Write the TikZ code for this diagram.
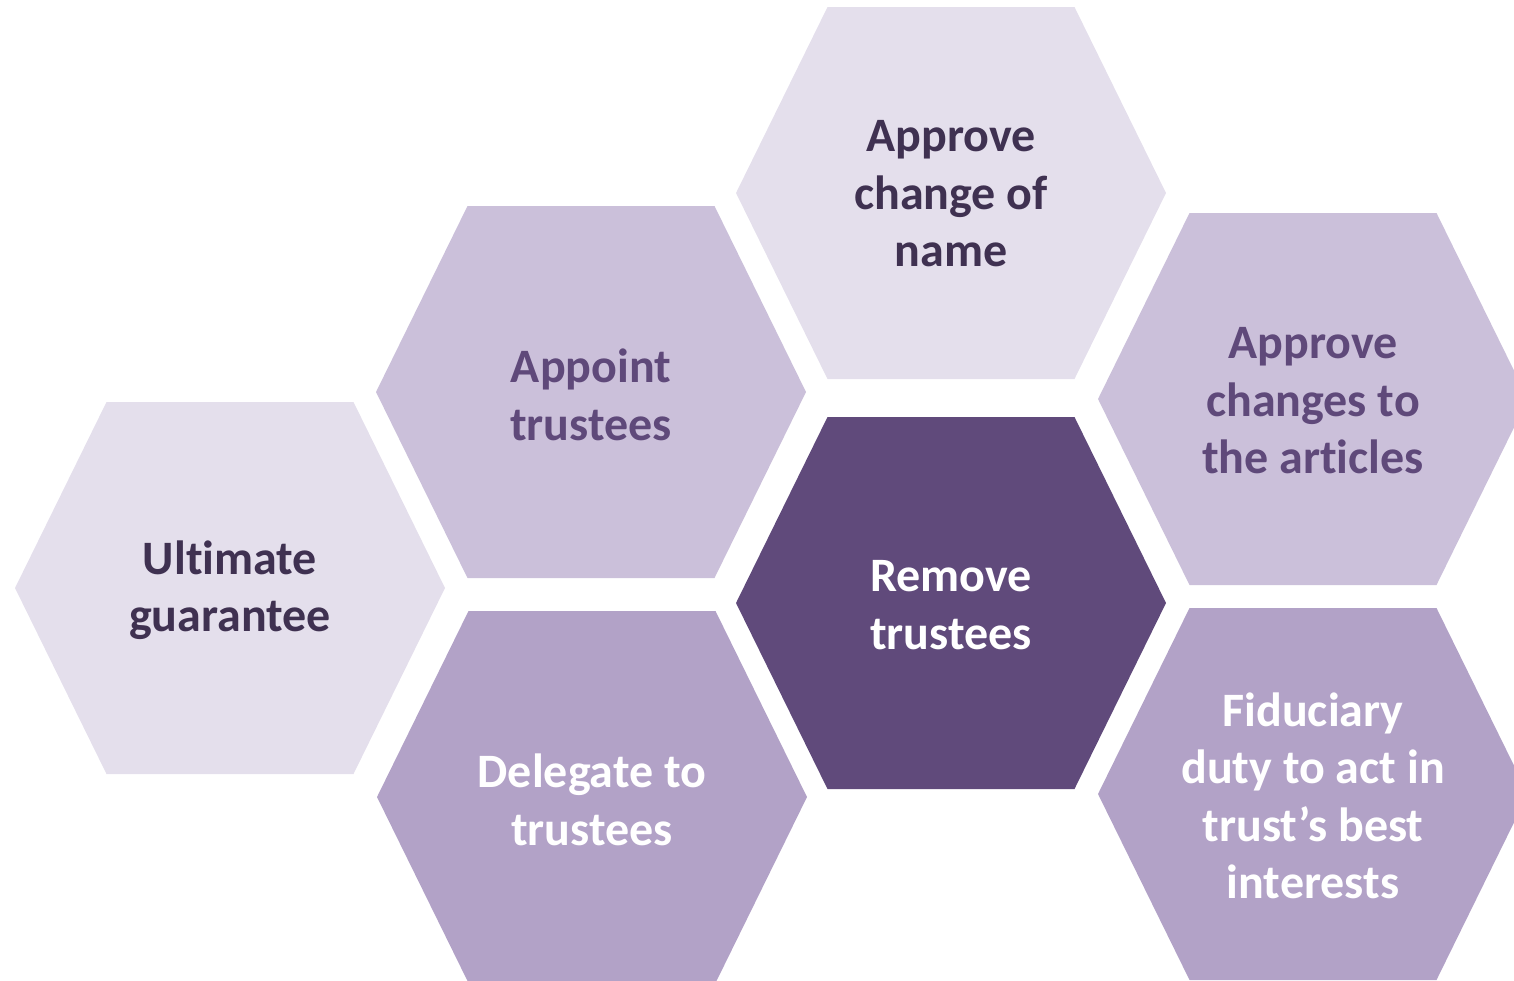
\documentclass[tikz,border=0pt]{standalone}
\usepackage{fontspec}
\setmainfont[Ligatures={NoCommon},RawFeature={-calt;-liga;-clig;-dlig}]{Carlito}
\definecolor{hexlight}{HTML}{E4DFEC}
\definecolor{hexmid}{HTML}{CBC0DA}
\definecolor{hexdeep}{HTML}{B2A2C7}
\definecolor{hexdark}{HTML}{604A7B}
\definecolor{txtdark}{HTML}{3F3151}
\definecolor{txtmid}{HTML}{5F497A}
\tikzset{
  hexlabel/.style={align=center, font=\fontsize{48}{57.5}\selectfont\bfseries, inner sep=0pt},
}
% hexagon: centre, fill colour
\newcommand\hexcell[2]{%
  \fill[#2] ($#1+(-215,0)$) -- ($#1+(-123.5,-186)$) -- ($#1+(123.5,-186)$) -- ($#1+(215,0)$) -- ($#1+(123.5,186)$) -- ($#1+(-123.5,186)$) -- cycle;}
\usetikzlibrary{calc}
\begin{document}
\begin{tikzpicture}[x=1pt,y=-1pt]
\useasboundingbox (0,0) rectangle (1514,980);
\clip (0,0) rectangle (1514,980);
\hexcell{(951,193)}{hexlight}
\hexcell{(591,392)}{hexmid}
\hexcell{(230,588)}{hexlight}
\hexcell{(592,797)}{hexdeep}
\hexcell{(951,603)}{hexdark}
\hexcell{(1313,399)}{hexmid}
\hexcell{(1313,794)}{hexdeep}
\node[hexlabel, text=txtdark] (name) at (951,194) {Approve\\change of\\name};
\node[hexlabel, text=txtmid] (appoint) at (591,395) {Appoint\\trustees};
\node[hexlabel, text=txtdark] (ultimate) at (230,590) {Ultimate\\guarantee};
\node[hexlabel, text=white] (delegate) at (592,800) {Delegate to\\trustees};
\node[hexlabel, text=white] (remove) at (951,605) {Remove\\trustees};
\node[hexlabel, text=txtmid] (articles) at (1313,401) {Approve\\changes to\\the articles};
\node[hexlabel, text=white] (fiduciary) at (1313,796) {Fiduciary\\duty to act in\\trust’s best\\interests};
\end{tikzpicture}
\end{document}
